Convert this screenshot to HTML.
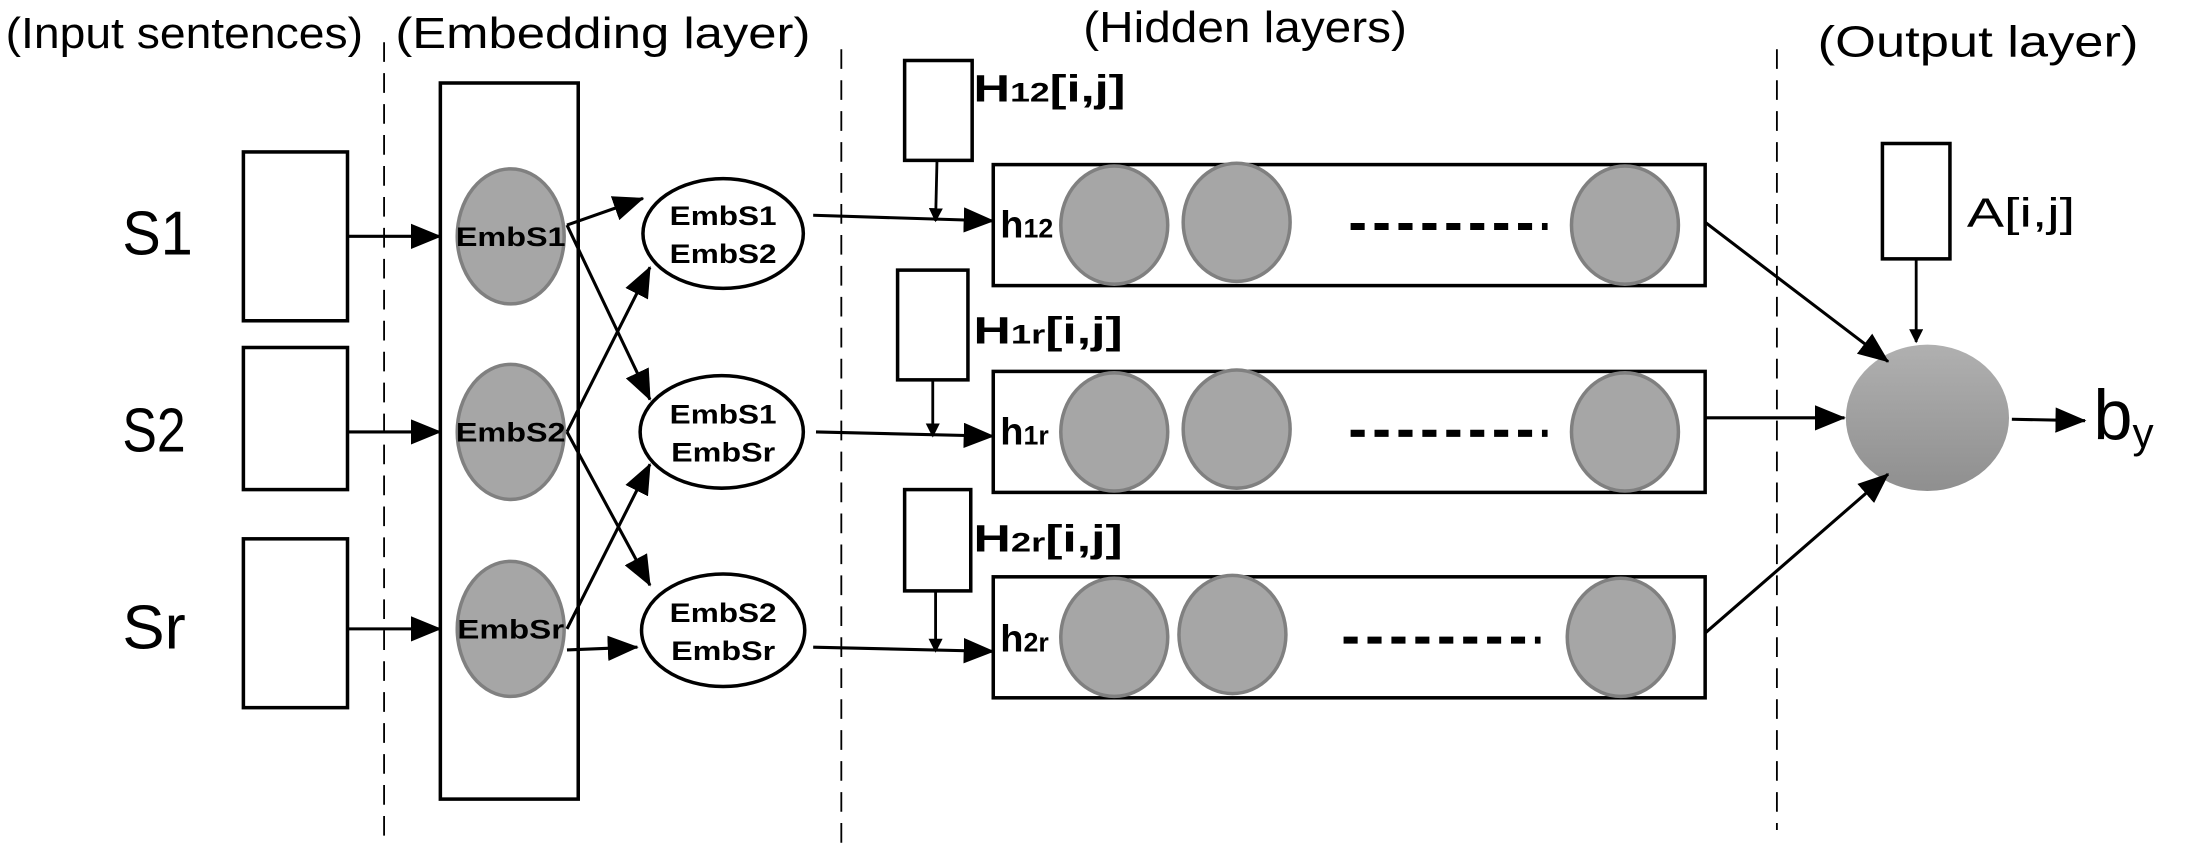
<!DOCTYPE html>
<html><head><meta charset="utf-8"><style>
html,body{margin:0;padding:0;background:#fff;width:2206px;height:852px;overflow:hidden}
svg{display:block}
text{font-family:"Liberation Sans",sans-serif;fill:#000}
.b{font-weight:bold}
</style></head><body>
<svg width="2206" height="852" viewBox="0 0 1568 605.6" preserveAspectRatio="none" xmlns="http://www.w3.org/2000/svg">
<defs>
<marker id="a" markerWidth="10" markerHeight="10" refX="9" refY="5" orient="auto" markerUnits="userSpaceOnUse" viewBox="0 0 10 10">
<path d="M0,0 L10,5 L0,10 z" fill="#000"/></marker>
<marker id="A" markerWidth="22" markerHeight="18" refX="21" refY="9" orient="auto" markerUnits="userSpaceOnUse" viewBox="0 0 22 18">
<path d="M0,0 L22,9 L0,18 z" fill="#000"/></marker>
<linearGradient id="g" x1="0" y1="0" x2="0" y2="1"><stop offset="0" stop-color="#b0b0b0"/><stop offset="1" stop-color="#8f8f8f"/></linearGradient>
</defs>
<g stroke="#000" stroke-width="1.3" stroke-dasharray="14,8">
<line x1="273" y1="30" x2="273" y2="600"/><line x1="598" y1="35" x2="598" y2="600"/><line x1="1263" y1="35" x2="1263" y2="590"/>
</g>
<g font-size="31">
<text x="4" y="34" textLength="254" lengthAdjust="spacingAndGlyphs">(Input sentences)</text>
<text x="281" y="34" textLength="295" lengthAdjust="spacingAndGlyphs">(Embedding layer)</text>
<text x="770" y="30" textLength="230" lengthAdjust="spacingAndGlyphs">(Hidden layers)</text>
<text x="1292" y="40" textLength="228" lengthAdjust="spacingAndGlyphs">(Output layer)</text>
</g>
<g font-size="44">
<text x="87" y="181" textLength="50" lengthAdjust="spacingAndGlyphs">S1</text><text x="87" y="321" textLength="45" lengthAdjust="spacingAndGlyphs">S2</text><text x="87" y="461" textLength="45" lengthAdjust="spacingAndGlyphs">Sr</text>
</g>
<g fill="#fff" stroke="#000" stroke-width="2.5">
<rect x="173" y="108" width="74" height="120"/><rect x="173" y="247" width="74" height="101"/><rect x="173" y="383" width="74" height="120"/>
<rect x="313" y="59" width="98" height="509"/>
<rect x="643" y="43" width="48" height="71"/><rect x="638" y="192" width="50" height="78"/><rect x="643" y="348" width="47" height="72"/>
<rect x="706" y="117" width="506" height="86"/><rect x="706" y="264" width="506" height="86"/><rect x="706" y="410" width="506" height="86"/>
<rect x="1338" y="102" width="48" height="82"/>
<ellipse cx="514" cy="166" rx="57" ry="39"/><ellipse cx="513" cy="307" rx="58" ry="40"/><ellipse cx="514" cy="448" rx="58" ry="40"/>
</g>
<g fill="#a6a6a6" stroke="#808080" stroke-width="2.5">
<ellipse cx="363" cy="168" rx="38" ry="48"/><ellipse cx="363" cy="307" rx="38" ry="48"/><ellipse cx="363" cy="447" rx="38" ry="48"/>
<ellipse cx="792" cy="160" rx="38" ry="42"/><ellipse cx="879" cy="158" rx="38" ry="42"/><ellipse cx="1155" cy="160" rx="38" ry="42"/>
<ellipse cx="792" cy="307" rx="38" ry="42"/><ellipse cx="879" cy="305" rx="38" ry="42"/><ellipse cx="1155" cy="307" rx="38" ry="42"/>
<ellipse cx="792" cy="453" rx="38" ry="42"/><ellipse cx="876" cy="451" rx="38" ry="42"/><ellipse cx="1152" cy="453" rx="38" ry="42"/>
</g>
<ellipse cx="1370" cy="297" rx="58" ry="52" fill="url(#g)"/>
<g stroke="#000" stroke-width="5" stroke-dasharray="10,7">
<line x1="960" y1="161" x2="1100" y2="161"/><line x1="960" y1="308" x2="1100" y2="308"/><line x1="955" y1="455" x2="1095" y2="455"/>
</g>
<g stroke="#000" stroke-width="2.2" fill="none" marker-end="url(#A)">
<line x1="247" y1="168" x2="313" y2="168"/><line x1="247" y1="307" x2="313" y2="307"/><line x1="247" y1="447" x2="313" y2="447"/>
<line x1="403" y1="160" x2="457" y2="141"/><line x1="403" y1="160" x2="462" y2="284"/>
<line x1="403" y1="307" x2="462" y2="190"/><line x1="403" y1="307" x2="462" y2="416"/>
<line x1="403" y1="447" x2="462" y2="330"/><line x1="403" y1="462" x2="453" y2="460"/>
<line x1="578" y1="153" x2="706" y2="157"/><line x1="580" y1="307" x2="706" y2="310"/><line x1="578" y1="460" x2="706" y2="463"/>
<line x1="1212" y1="158" x2="1342" y2="257"/><line x1="1212" y1="297" x2="1311" y2="297"/><line x1="1212" y1="450" x2="1342" y2="337"/>
<line x1="1430" y1="298" x2="1482" y2="299"/>
</g>
<g stroke="#000" stroke-width="2" fill="none" marker-end="url(#a)">
<line x1="666" y1="114" x2="665" y2="157"/><line x1="663" y1="270" x2="663" y2="310"/><line x1="665" y1="420" x2="665" y2="463"/>
<line x1="1362" y1="184" x2="1362" y2="243"/>
</g>
<g class="b" font-size="19" text-anchor="middle">
<text x="363" y="175" textLength="78" lengthAdjust="spacingAndGlyphs">EmbS1</text><text x="363" y="314" textLength="78" lengthAdjust="spacingAndGlyphs">EmbS2</text><text x="363" y="454" textLength="76" lengthAdjust="spacingAndGlyphs">EmbSr</text>
<text x="514" y="160" textLength="76" lengthAdjust="spacingAndGlyphs">EmbS1</text><text x="514" y="187" textLength="76" lengthAdjust="spacingAndGlyphs">EmbS2</text>
<text x="514" y="301" textLength="76" lengthAdjust="spacingAndGlyphs">EmbS1</text><text x="514" y="328" textLength="74" lengthAdjust="spacingAndGlyphs">EmbSr</text>
<text x="514" y="442" textLength="76" lengthAdjust="spacingAndGlyphs">EmbS2</text><text x="514" y="469" textLength="74" lengthAdjust="spacingAndGlyphs">EmbSr</text>
</g>
<g class="b" font-size="27">
<text x="692" y="72" textLength="108" lengthAdjust="spacingAndGlyphs">H<tspan font-size="19">12</tspan>[i,j]</text>
<text x="692" y="244" textLength="106" lengthAdjust="spacingAndGlyphs">H<tspan font-size="19">1r</tspan>[i,j]</text>
<text x="692" y="392" textLength="106" lengthAdjust="spacingAndGlyphs">H<tspan font-size="19">2r</tspan>[i,j]</text>
<text x="711" y="169">h<tspan font-size="19">12</tspan></text>
<text x="711" y="316">h<tspan font-size="19">1r</tspan></text>
<text x="711" y="463">h<tspan font-size="19">2r</tspan></text>
</g>
<text x="1398" y="161" font-size="29" textLength="77" lengthAdjust="spacingAndGlyphs">A[i,j]</text>
<text x="1488" y="312" font-size="50">b<tspan font-size="30" dy="6">y</tspan></text>
</svg>
</body></html>
